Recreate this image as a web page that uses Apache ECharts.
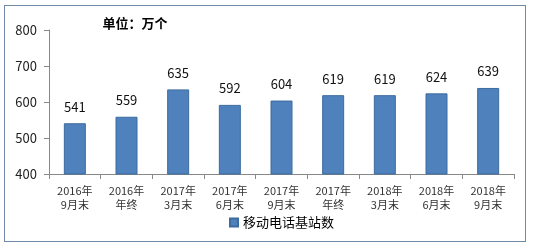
<!DOCTYPE html>
<html><head><meta charset="utf-8">
<script src="https://cdn.jsdelivr.net/npm/echarts@6/dist/echarts.min.js"></script>
<style>html,body{margin:0;padding:0;background:#fff}#c{width:534px;height:249px}
#frame{position:absolute;left:4px;top:5px;width:522px;height:237px;border:1px solid #6f8aa6;box-sizing:border-box;pointer-events:none}</style>
</head><body><div id="c"></div><div id="frame"></div>
<script>
const categories = ['2016年\n9月末','2016年\n年终','2017年\n3月末','2017年\n6月末','2017年\n9月末','2017年\n年终','2018年\n3月末','2018年\n6月末','2018年\n9月末'];
const values = [541, 559, 635, 592, 604, 619, 619, 624, 639];
const seriesName = '移动电话基站数';
const titleText = '单位：万个';
const chart = echarts.init(document.getElementById('c'));
chart.setOption({
  animation:false,
  textStyle:{fontFamily:'"Noto Sans CJK SC", "DejaVu Sans", sans-serif'},
  title:{text:titleText,left:130,top:12,textAlign:'center',textStyle:{fontSize:13,fontWeight:'bold',color:'#000'}},
  grid:{left:49,right:20,top:30,bottom:75},
  legend:{data:[seriesName],bottom:15,left:224,icon:'rect',itemWidth:8,itemHeight:8,itemGap:4,textStyle:{fontSize:13,color:'#000'}},
  xAxis:{type:'category',data:categories,
    axisLine:{lineStyle:{color:'#888'}},
    axisTick:{show:true,length:5,lineStyle:{color:'#888'}},
    axisLabel:{fontSize:11,color:'#333',lineHeight:14,margin:10,interval:0}},
  yAxis:{type:'value',min:400,max:800,interval:100,
    splitLine:{show:false},
    axisLine:{show:true,lineStyle:{color:'#888'}},
    axisTick:{show:true,length:5,lineStyle:{color:'#888'}},
    axisLabel:{fontSize:13,color:'#222',margin:12}},
  series:[{name:seriesName,type:'bar',data:values,barWidth:22,
    itemStyle:{color:'#4f81bd',borderColor:'#3d6b9e',borderWidth:1},
    label:{show:true,position:'top',distance:10,fontSize:13,color:'#111'}}]
});
</script></body></html>
